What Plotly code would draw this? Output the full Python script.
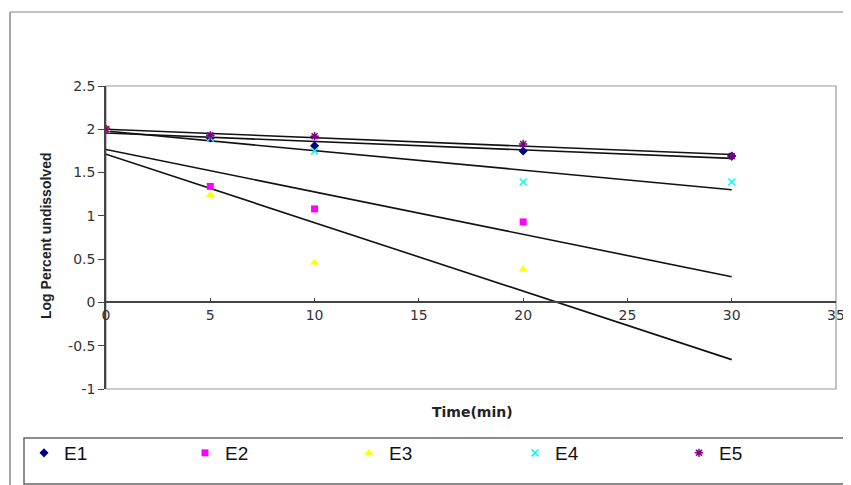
import numpy as np
import plotly.graph_objects as go

# ---- data ----
time_min = [0, 5, 10, 20, 30]
E1 = [2.00, 1.90, 1.81, 1.75, 1.69]
E2 = [2.00, 1.34, 1.08, 0.93, None]
E3 = [2.00, 1.24, 0.46, 0.38, None]
E4 = [2.00, 1.90, 1.75, 1.39, 1.39]
E5 = [2.00, 1.93, 1.92, 1.83, 1.69]
series_names = ["E1", "E2", "E3", "E4", "E5"]
x_ticks = [0, 5, 10, 15, 20, 25, 30, 35]
y_ticks = [-1, -0.5, 0, 0.5, 1, 1.5, 2, 2.5]
y_tick_labels = ["-1", "-0.5", "0", "0.5", "1", "1.5", "2", "2.5"]

# page body has an 8px margin -> figure starts at (8, 8) on screen
OFF = 8
W, H = 851 - OFF, 485 - OFF
# plot area on screen: x 106..836, y 86..389
L, T = 106 - OFF, 86 - OFF
R = W - (836 - OFF)
B = H - (389 - OFF)
PW, PH = W - L - R, H - T - B


def px2x(px):  # screen px -> paper
    return (px - OFF - L) / PW


def px2y(py):
    return (H - B - (py - OFF)) / PH


styles = [
    dict(symbol="diamond", color="#000080", size=7),
    dict(symbol="square", color="#FF00FF", size=7),
    dict(symbol="triangle-up", color="#FFFF00", size=8),
    dict(symbol="x-thin-open", color="#00FFFF", size=7),
    dict(symbol="asterisk-open", color="#800080", size=7),
]
legend_marker_px = [45, 206, 370, 536, 700]

fig = go.Figure()
all_series = [E1, E2, E3, E4, E5]

# trend lines
for vals in all_series:
    xs = np.array([t for t, v in zip(time_min, vals) if v is not None], float)
    ys = np.array([v for v in vals if v is not None], float)
    k, b = np.polyfit(xs, ys, 1)
    xl = np.array([time_min[0], time_min[-1]], float)
    fig.add_trace(go.Scatter(x=xl, y=k * xl + b, mode="lines",
                             line=dict(color="#111111", width=1.6),
                             showlegend=False, hoverinfo="skip"))

legend_font = dict(family="Liberation Sans, Arial", size=19, color="#111111")
legend_layouts = {}
for i, (name, vals, st) in enumerate(zip(series_names, all_series, styles)):
    xs = [t for t, v in zip(time_min, vals) if v is not None]
    ys = [v for v in vals if v is not None]
    lw = 1.5 if st["symbol"].endswith("open") else 0
    lg = "legend" if i == 0 else f"legend{i + 1}"
    fig.add_trace(go.Scatter(x=xs, y=ys, mode="markers", name=name, legend=lg,
                             marker=dict(symbol=st["symbol"], size=st["size"],
                                         color=st["color"],
                                         line=dict(color=st["color"], width=lw))))
    legend_layouts[lg] = dict(
        orientation="h", x=px2x(legend_marker_px[i] - 21), y=px2y(453),
        xanchor="left", yanchor="middle", itemwidth=30,
        font=legend_font, bgcolor="rgba(0,0,0,0)", borderwidth=0,
        tracegroupgap=0)

tickfont = dict(family="DejaVu Sans, Liberation Sans, Arial", size=14, color="#333333")

fig.update_layout(
    width=W, height=H,
    margin=dict(l=L, r=R, t=T, b=B, autoexpand=False),
    paper_bgcolor="white", plot_bgcolor="white",
    showlegend=True,
    xaxis=dict(range=[0, 35], tickvals=x_ticks, showgrid=False, zeroline=False,
               showline=True, linecolor="#444444", linewidth=1.5,
               ticks="inside", ticklen=4, tickcolor="#444444",
               anchor="free", position=(0 - (-1)) / (2.5 - (-1)),
               tickfont=tickfont),
    yaxis=dict(range=[-1, 2.5], tickvals=y_ticks, ticktext=y_tick_labels,
               showgrid=False, zeroline=False, showline=True,
               linecolor="#444444", linewidth=1.5, ticks="outside", ticklen=6,
               tickcolor="#444444", tickfont=tickfont, domain=[0, 1]),
    shapes=[
        # plot area border
        dict(type="rect", xref="paper", yref="paper", x0=0, y0=0, x1=1, y1=1,
             line=dict(color="#999999", width=1.2), layer="below"),
        # outer chart border (left & top)
        dict(type="line", xref="paper", yref="paper", x0=px2x(10), x1=px2x(10),
             y0=px2y(12), y1=px2y(490), line=dict(color="#888888", width=1.5)),
        dict(type="line", xref="paper", yref="paper", x0=px2x(10), x1=px2x(860),
             y0=px2y(12), y1=px2y(12), line=dict(color="#aaaaaa", width=1.5)),
        # legend box
        dict(type="rect", xref="paper", yref="paper", x0=px2x(24), x1=px2x(845),
             y0=px2y(438), y1=px2y(484), line=dict(color="#666666", width=1.5)),
    ],
    annotations=[
        dict(text="Time(min)", xref="paper", yref="paper", x=px2x(472), y=px2y(412),
             showarrow=False, xanchor="center", yanchor="middle",
             font=dict(family="DejaVu Sans, Liberation Sans, Arial", size=14,
                       color="#222222", weight="bold")),
        dict(text="Log Percent undissolved", xref="paper", yref="paper",
             x=px2x(46), y=px2y(236), textangle=-90, showarrow=False,
             xanchor="center", yanchor="middle",
             font=dict(family="Liberation Sans, Arial", size=14,
                       color="#222222", weight="bold")),
    ],
    **legend_layouts,
)

fig.write_html("out.html")
